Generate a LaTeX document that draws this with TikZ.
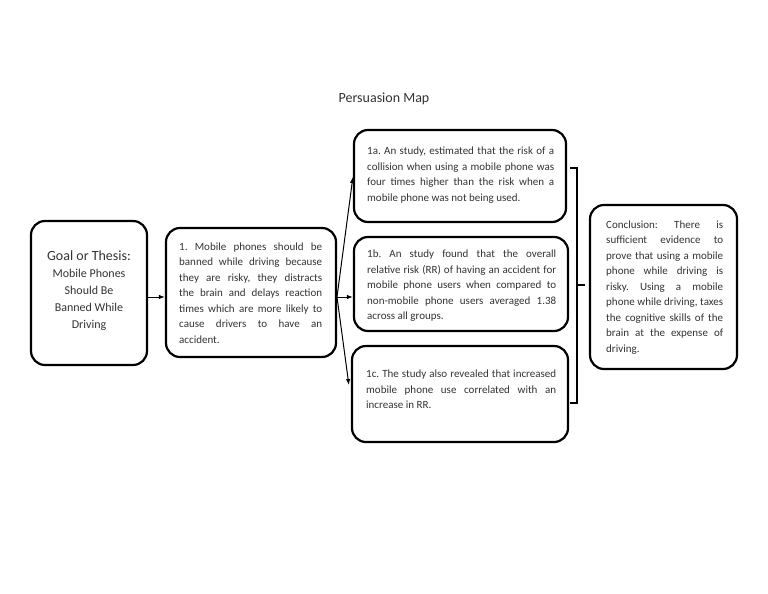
\documentclass[tikz,border=0pt]{standalone}
\usepackage{fontspec}
\setmainfont{Carlito}
\usetikzlibrary{arrows.meta,calc}
\definecolor{textgray}{HTML}{333333}
\frenchspacing
\begin{document}
\begin{tikzpicture}[x=1pt,y=-1pt,
  box/.style={draw=black, line width=2.2pt, rounded corners=14pt, inner sep=0pt},
  txt/.style={text=textgray, font={\frenchspacing\fontsize{11}{15.5}\selectfont\hyphenpenalty=10000\tolerance=9999\emergencystretch=10pt}, align=justify, inner sep=0pt, anchor=north west},
  arr/.style={-{Latex[length=6pt,width=4.5pt]}, line width=1pt},
  brk/.style={line width=1.8pt}]
\useasboundingbox[fill=white] (0,0) rectangle (768,594);
% title
\node[text=textgray, font=\fontsize{14}{16}\selectfont, inner sep=0pt] (title) at (384,99) {Persuasion Map};
% boxes
\node[box, minimum width=116pt, minimum height=144pt] (g) at (89,293) {};
\node[box, minimum width=170pt, minimum height=129pt] (b1) at (251,292.5) {};
\node[box, minimum width=212pt, minimum height=92pt] (a) at (460,176) {};
\node[box, minimum width=214pt, minimum height=94pt] (b) at (461,284) {};
\node[box, minimum width=216pt, minimum height=96pt] (c) at (460,394) {};
\node[box, minimum width=147pt, minimum height=164pt] (k) at (663.5,287) {};
% texts
\node[text=textgray, align=center, inner sep=0pt, font={\fontsize{12}{17}\selectfont}] (gt) at (89,291)
  {{\fontsize{14}{17}\selectfont Goal or Thesis:}\\Mobile Phones\\Should Be\\Banned While\\Driving};
\node[txt, text width=143pt] (b1t) at (179,242.5)
  {1. Mobile phones should be\linebreak banned while driving because\linebreak they are risky, they distracts\linebreak the brain and delays reaction\linebreak times which are more likely to\linebreak cause drivers to have an\linebreak accident.};
\node[txt, text width=187pt] (at) at (367,147)
  {1a. An study, estimated that the risk of a\linebreak collision when using a mobile phone was\linebreak four times higher than the risk when a\linebreak mobile phone was not being used.};
\node[txt, text width=189pt] (bt) at (367,250)
  {1b. An study found that the overall\linebreak relative risk (RR) of having an accident for\linebreak mobile phone users when compared to\linebreak non-mobile phone users averaged 1.38\linebreak across all groups.};
\node[txt, text width=190pt] (ct) at (366,370)
  {1c. The study also revealed that increased\linebreak mobile phone use correlated with an\linebreak increase in RR.};
\node[txt, text width=117pt] (kt) at (606,220.5)
  {Conclusion: There is\linebreak sufficient evidence to\linebreak prove that using a mobile\linebreak phone while driving is\linebreak risky. Using a mobile\linebreak phone while driving, taxes\linebreak the cognitive skills of the\linebreak brain at the expense of\linebreak driving.};
% connectors
\coordinate (fork) at (337,297);
\draw[arr] (g.east |- fork) -- (b1.west |- fork);
\draw[arr] (fork) -- ([yshift=-1pt]a.west);
\draw[arr] (fork) -- (b.west |- fork);
\draw[arr] (fork) -- ([xshift=-2pt,yshift=9pt]c.west);
% bracket
\coordinate (bt1) at (570,168);
\coordinate (bt2) at (570,403);
\coordinate (bm) at (577,285);
\coordinate (bmr) at (585,285);
\draw[brk] (bt1) -- (577,168) -- (577,403) -- (bt2);
\draw[brk] (bm) -- (bmr);
\end{tikzpicture}
\end{document}
